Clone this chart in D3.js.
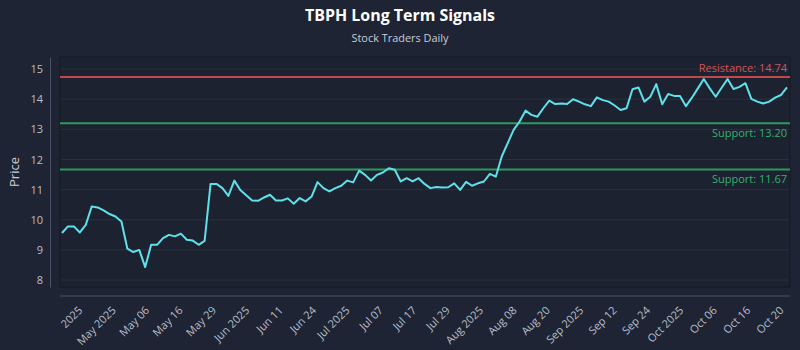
<!DOCTYPE html>
<html>
<head>
<meta charset="utf-8">
<script src="https://cdn.jsdelivr.net/npm/d3@7"></script>
<style>
  html, body { margin: 0; padding: 0; background: #1e2433; }
  svg { display: block; }
  text { font-family: "Open Sans", "Noto Sans", sans-serif; }
</style>
</head>
<body>
<svg id="chart" width="800" height="350"></svg>
<script>
// Daily closing prices (trading sessions in order)
const prices = [
  9.56, 9.78, 9.78, 9.58, 9.83, 10.44, 10.41, 10.31, 10.19, 10.11,
  9.94, 9.04, 8.93, 9.00, 8.43, 9.17, 9.17, 9.39, 9.50, 9.45,
  9.54, 9.34, 9.31, 9.17, 9.30, 11.19, 11.19, 11.05, 10.79, 11.30,
  10.99, 10.81, 10.64, 10.63, 10.74, 10.83, 10.64, 10.64, 10.71, 10.53,
  10.72, 10.61, 10.77, 11.25, 11.05, 10.94, 11.05, 11.13, 11.30, 11.24,
  11.63, 11.49, 11.30, 11.49, 11.57, 11.71, 11.66, 11.27, 11.38, 11.27,
  11.38, 11.19, 11.05, 11.09, 11.07, 11.08, 11.21, 10.99, 11.26, 11.13,
  11.21, 11.27, 11.52, 11.43, 12.10, 12.54, 12.98, 13.26, 13.62, 13.48,
  13.42, 13.70, 13.95, 13.84, 13.86, 13.84, 14.00, 13.92, 13.83, 13.77,
  14.06, 13.97, 13.92, 13.79, 13.64, 13.70, 14.33, 14.39, 13.92, 14.08,
  14.50, 13.83, 14.17, 14.11, 14.11, 13.77, 14.05, 14.36, 14.67, 14.36,
  14.08, 14.38, 14.67, 14.34, 14.41, 14.53, 14.01, 13.92, 13.86, 13.92,
  14.05, 14.14, 14.39
];

// Date labels along the time axis
const xTickLabels = [
  "2025", "May 2025", "May 06", "May 16", "May 29", "Jun 2025", "Jun 11", "Jun 24",
  "Jul 2025", "Jul 07", "Jul 17", "Jul 29", "Aug 2025", "Aug 08", "Aug 20",
  "Sep 2025", "Sep 12", "Sep 24", "Oct 2025", "Oct 06", "Oct 16", "Oct 20"
];

const yTicks = [8, 9, 10, 11, 12, 13, 14, 15];

// Signal levels
const levelNames = ["Resistance", "Support", "Support"];
const levelValues = [14.74, 13.20, 11.67];

const svg = d3.select("#chart");
const W = 800, H = 350;
const plot = { left: 60, right: 790, top: 57, bottom: 287 };

svg.append("rect").attr("width", W).attr("height", H).attr("fill", "#1e2433");

// Title + subtitle
svg.append("text")
  .attr("x", 400).attr("y", 21)
  .attr("text-anchor", "middle")
  .attr("fill", "#ffffff")
  .attr("font-size", 16).attr("font-weight", 700)
  .attr("textLength", 190).attr("lengthAdjust", "spacingAndGlyphs")
  .text("TBPH Long Term Signals");

svg.append("text")
  .attr("x", 400).attr("y", 42)
  .attr("text-anchor", "middle")
  .attr("fill", "#c9ced8")
  .attr("font-size", 11)
  .attr("textLength", 97).attr("lengthAdjust", "spacingAndGlyphs")
  .text("Stock Traders Daily");

// Plot panel
svg.append("rect")
  .attr("x", plot.left).attr("y", plot.top)
  .attr("width", plot.right - plot.left).attr("height", plot.bottom - plot.top)
  .attr("fill", "#1d2231")
  .attr("stroke", "#141925").attr("stroke-width", 1);

const x = d3.scaleLinear()
  .domain([0, prices.length - 1])
  .range([62, 787]);

const y = d3.scaleLinear()
  .domain([7.77, 15.40])
  .range([plot.bottom, plot.top]);

// Horizontal grid
svg.append("g")
  .selectAll("line")
  .data(yTicks)
  .join("line")
  .attr("x1", plot.left + 1).attr("x2", plot.right - 1)
  .attr("y1", d => y(d)).attr("y2", d => y(d))
  .attr("stroke", "#2a3141").attr("stroke-width", 1);

// Y axis
const yAxis = svg.append("g")
  .attr("transform", "translate(50,0)")
  .call(d3.axisLeft(y).tickValues(yTicks).tickSize(0).tickPadding(7).tickFormat(d3.format("d")));
yAxis.select(".domain").attr("stroke", "#4b5265");
yAxis.selectAll("text").attr("fill", "#b9bfcb").attr("font-size", 11)
  .attr("font-family", "'Open Sans', sans-serif");

// X axis: evenly spaced labels from the 5th session to the last one
const first = 4, last = prices.length - 1;
const tickIdx = xTickLabels.map((_, i) => first + i * (last - first) / (xTickLabels.length - 1));

const xAxis = svg.append("g")
  .attr("transform", "translate(0,296)")
  .call(d3.axisBottom(x).tickValues(tickIdx).tickSize(0)
    .tickFormat((d, i) => xTickLabels[i]));
xAxis.select(".domain").remove();
xAxis.append("line")
  .attr("x1", plot.left).attr("x2", plot.right)
  .attr("y1", 0).attr("y2", 0)
  .attr("stroke", "#4b5265");
xAxis.selectAll(".tick text")
  .attr("fill", "#b9bfcb").attr("font-size", 11)
  .attr("font-family", "'Open Sans', sans-serif")
  .attr("text-anchor", "end")
  .attr("x", 0).attr("y", 0).attr("dy", 0)
  .attr("transform", "translate(-3,15) rotate(-45)");

// Y axis title
svg.append("text")
  .attr("transform", "translate(19,172) rotate(-90)")
  .attr("text-anchor", "middle")
  .attr("fill", "#c9ced8")
  .attr("font-size", 13)
  .text("Price");

// Signal level lines and labels
const levelColor = ["#c2474c", "#2c9a5c", "#2c9a5c"];
const levelText = ["#d0555a", "#36b06a", "#36b06a"];
const levels = svg.append("g");
levelValues.forEach((v, i) => {
  levels.append("line")
    .attr("x1", plot.left).attr("x2", plot.right)
    .attr("y1", y(v)).attr("y2", y(v))
    .attr("stroke", levelColor[i]).attr("stroke-width", 2);
  const above = levelNames[i] === "Resistance";
  levels.append("text")
    .attr("x", 787)
    .attr("y", above ? y(v) - 5 : y(v) + 14)
    .attr("text-anchor", "end")
    .attr("fill", levelText[i])
    .attr("font-size", 11)
    .text(`${levelNames[i]}: ${v.toFixed(2)}`);
});

// Price line
svg.append("path")
  .datum(prices)
  .attr("fill", "none")
  .attr("stroke", "#5fe1ea")
  .attr("stroke-width", 2)
  .attr("stroke-linejoin", "round")
  .attr("d", d3.line().x((d, i) => x(i)).y(d => y(d)));
</script>
</body>
</html>
